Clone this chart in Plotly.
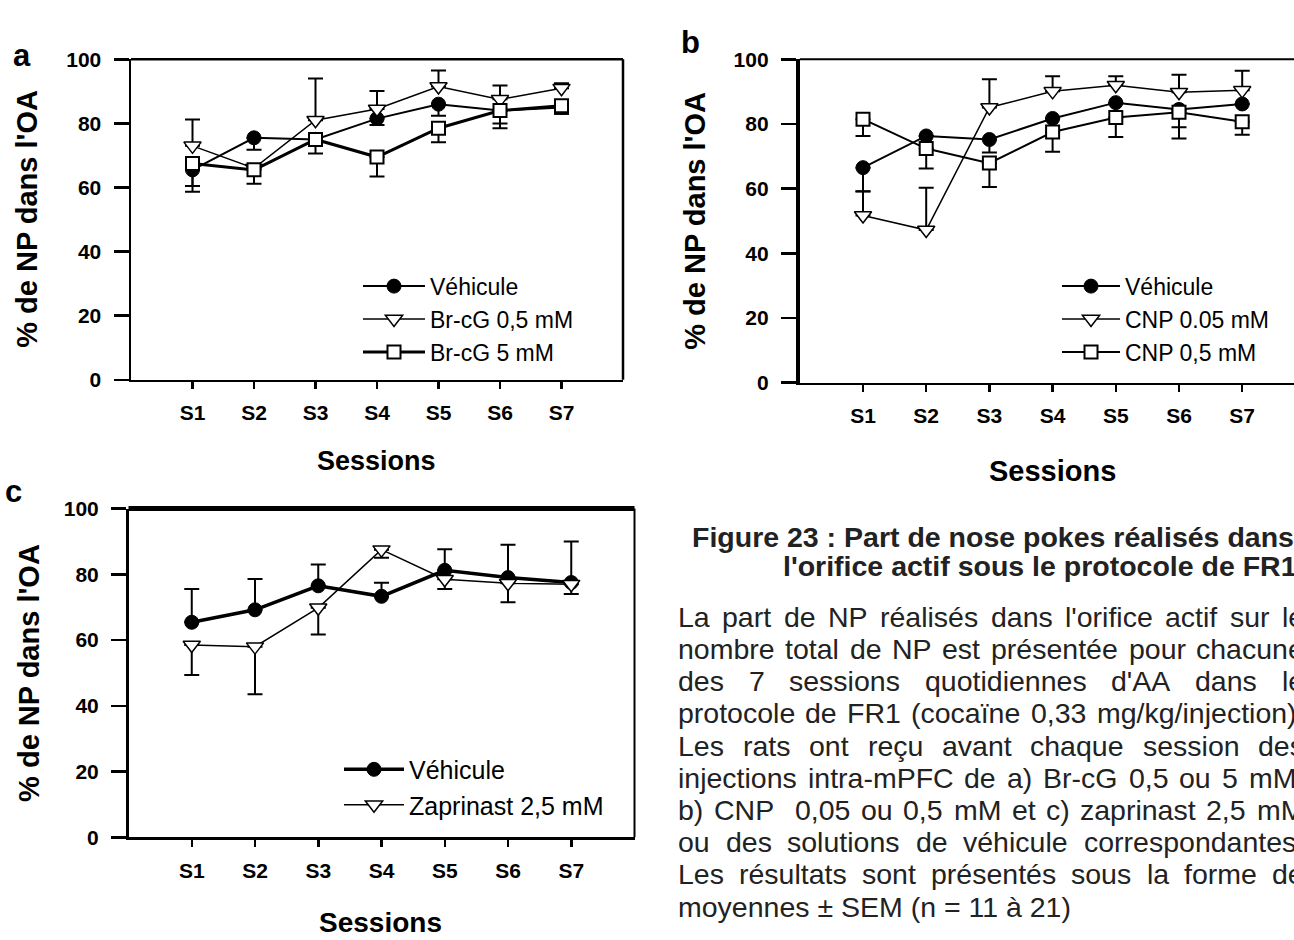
import plotly.graph_objects as go

W, H = 1294, 940
FONT = "Liberation Sans, Arial, sans-serif"

# ---------------- data ----------------
sessions = ["S1", "S2", "S3", "S4", "S5", "S6", "S7"]
y_tick_values = [0, 20, 40, 60, 80, 100]

# panel a
a_labels = ["Véhicule", "Br-cG 0,5 mM", "Br-cG 5 mM"]
a_vehicule = [65.5, 75.5, 75.0, 81.5, 86.0, 84.0, 85.0]
a_vehicule_err_up = [0, 0, 0, 0, 0, 0, 0]
a_vehicule_err_down = [6.8, 3.7, 0, 2.0, 3.6, 5.5, 2.0]
a_brcg05 = [73.0, 66.0, 81.0, 84.5, 91.5, 87.5, 91.0]
a_brcg05_err_up = [8.2, 0, 13.0, 5.6, 5.0, 4.3, 1.5]
a_brcg05_err_down = [0, 0, 0, 0, 0, 0, 0]
a_brcg5 = [67.5, 65.5, 75.0, 69.5, 78.5, 84.0, 85.5]
a_brcg5_err_up = [0, 0, 0, 0, 0, 0, 0]
a_brcg5_err_down = [7.0, 4.3, 4.4, 6.1, 4.4, 4.0, 2.5]

# panel b
b_labels = ["Véhicule", "CNP 0.05 mM", "CNP 0,5 mM"]
b_vehicule = [66.5, 76.3, 75.2, 81.7, 86.6, 84.5, 86.2]
b_vehicule_err_up = [0, 0, 0, 0, 0, 0, 0]
b_vehicule_err_down = [7.3, 0, 4.0, 0, 0, 9.0, 0]
b_cnp005 = [51.7, 47.2, 85.1, 90.1, 92.0, 89.8, 90.4]
b_cnp005_err_up = [7.4, 13.1, 8.7, 4.7, 2.8, 5.4, 6.1]
b_cnp005_err_down = [0, 0, 0, 0, 0, 0, 0]
b_cnp05 = [81.5, 72.4, 67.9, 77.5, 82.0, 83.6, 80.7]
b_cnp05_err_up = [0, 0, 0, 0, 0, 0, 0]
b_cnp05_err_down = [5.2, 6.2, 7.4, 6.1, 6.0, 4.6, 4.0]

# panel c
c_labels = ["Véhicule", "Zaprinast 2,5 mM"]
c_vehicule = [65.4, 69.2, 76.5, 73.3, 81.2, 79.0, 77.5]
c_vehicule_err_up = [10.1, 9.4, 6.5, 4.1, 6.4, 10.0, 12.5]
c_vehicule_err_down = [0, 0, 0, 0, 0, 0, 0]
c_zaprinast = [58.5, 58.0, 69.8, 87.5, 78.5, 77.3, 77.0]
c_zaprinast_err_up = [0, 0, 0, 0, 0, 0, 0]
c_zaprinast_err_down = [9.1, 14.5, 8.1, 2.5, 3.0, 5.8, 3.0]

y_title = "% de NP dans l'OA"
x_title = "Sessions"
panel_letters = ["a", "b", "c"]

caption_title_lines = [
    "Figure 23 : Part de nose pokes réalisés dans",
    "l'orifice actif sous le protocole de FR1",
]
caption_body_lines = [
    "La part de NP réalisés dans l'orifice actif sur le",
    "nombre total de NP est présentée pour chacune",
    "des 7 sessions quotidiennes d'AA dans le",
    "protocole de FR1 (cocaïne 0,33 mg/kg/injection).",
    "Les rats ont reçu avant chaque session des",
    "injections intra-mPFC de a) Br-cG 0,5 ou 5 mM,",
    "b) CNP  0,05 ou 0,5 mM et c) zaprinast 2,5 mM",
    "ou des solutions de véhicule correspondantes.",
    "Les résultats sont présentés sous la forme de",
    "moyennes ± SEM (n = 11 à 21)",
]


# ---------------- helpers ----------------
def px(x):
    return x / W


def py(y):
    return 1 - y / H


# Arial (Liberation Sans) advance widths, 1/1000 em, for justification
_UP = dict(zip("ABCDEFGHIJKLMNOPQRSTUVWXYZ",
               [667, 667, 722, 722, 667, 611, 778, 722, 278, 500, 667, 556, 833,
                722, 778, 667, 778, 722, 667, 611, 722, 667, 944, 667, 667, 611]))
_LO = dict(zip("abcdefghijklmnopqrstuvwxyz",
               [556, 556, 500, 556, 556, 278, 556, 556, 222, 222, 500, 222, 833,
                556, 556, 556, 556, 333, 500, 278, 556, 500, 722, 500, 500, 500]))
ARIAL_W = {" ": 278, "%": 889, "'": 191, "(": 333, ")": 333, "+": 584, ",": 278,
           "-": 333, ".": 278, "/": 278, ":": 278, ";": 278, "=": 584, "±": 584,
           "é": 556, "è": 556, "ê": 556, "à": 556, "ç": 500, "ï": 278}
ARIAL_W.update(_UP)
ARIAL_W.update(_LO)
ARIAL_W.update({d: 556 for d in "0123456789"})


def text_w(s, size):
    return sum(ARIAL_W.get(ch, 556) for ch in s) * size / 1000.0


fig = go.Figure()

# panel geometry (pixels)
A_X = (131.0, 623.0); A_Y = (48.5, 377.0)
B_X = (799.8, 1294.0); B_Y = (48.5, 380.0)
C_X = (128.5, 634.5); C_Y = (509.0, 846.0)
B_SPACING = 63.2


def add_series(y, up, down, name, symbol, fill, size, lw, mlw, ax, leg):
    fig.add_trace(go.Scatter(
        x=sessions, y=y, name=name, mode="lines+markers",
        line=dict(color="black", width=lw),
        marker=dict(symbol=symbol, size=size, color=fill,
                    line=dict(color="black", width=mlw)),
        error_y=dict(type="data", symmetric=False, array=up, arrayminus=down,
                     color="black", thickness=2, width=7.5),
        xaxis="x" + ax, yaxis="y" + ax, legend=leg, cliponaxis=False,
    ))


# panel a
add_series(a_vehicule, a_vehicule_err_up, a_vehicule_err_down, a_labels[0],
           "circle", "black", 14, 2, 1, "", "legend")
add_series(a_brcg05, a_brcg05_err_up, a_brcg05_err_down, a_labels[1],
           "triangle-down", "white", 15, 1.5, 1.5, "", "legend")
add_series(a_brcg5, a_brcg5_err_up, a_brcg5_err_down, a_labels[2],
           "square", "white", 13, 3, 2, "", "legend")
# panel b
add_series(b_vehicule, b_vehicule_err_up, b_vehicule_err_down, b_labels[0],
           "circle", "black", 14, 2, 1, "2", "legend2")
add_series(b_cnp005, b_cnp005_err_up, b_cnp005_err_down, b_labels[1],
           "triangle-down", "white", 15, 1.5, 1.5, "2", "legend2")
add_series(b_cnp05, b_cnp05_err_up, b_cnp05_err_down, b_labels[2],
           "square", "white", 13, 2, 2, "2", "legend2")
# panel c
add_series(c_vehicule, c_vehicule_err_up, c_vehicule_err_down, c_labels[0],
           "circle", "black", 14, 3.5, 1, "3", "legend3")
add_series(c_zaprinast, c_zaprinast_err_up, c_zaprinast_err_down, c_labels[1],
           "triangle-down", "white", 15, 1.5, 1.5, "3", "legend3")


def xaxis_cfg(xr, yanchor, rng, lw):
    return dict(domain=[px(xr[0]), px(xr[1])], range=rng, type="category",
                categoryorder="array", categoryarray=sessions,
                showline=True, linecolor="black", linewidth=lw,
                ticks="outside", ticklen=7, tickwidth=2.5, tickcolor="black",
                tickfont=dict(family=FONT, size=21, color="black", weight="bold"),
                ticklabelstandoff=6,
                showgrid=False, zeroline=False, anchor=yanchor, fixedrange=True)


def yaxis_cfg(yr, xanchor, lw):
    return dict(domain=[py(yr[1]), py(yr[0])], range=[0, 100],
                tickmode="array", tickvals=y_tick_values,
                showline=True, linecolor="black", linewidth=lw,
                ticks="outside", ticklen=15, tickwidth=2.5, tickcolor="black",
                tickfont=dict(family=FONT, size=21, color="black", weight="bold"),
                ticklabelstandoff=8,
                showgrid=False, zeroline=False, anchor=xanchor, fixedrange=True)


b_max = -1 + (B_X[1] - B_X[0]) / B_SPACING

fig.update_layout(
    width=W, height=H, margin=dict(l=0, r=0, t=0, b=0),
    paper_bgcolor="white", plot_bgcolor="white",
    font=dict(family=FONT, color="black"),
    xaxis=xaxis_cfg(A_X, "y", [-1, 7], 2.5),
    yaxis=yaxis_cfg(A_Y, "x", 2.5),
    xaxis2=xaxis_cfg(B_X, "y2", [-1, b_max], 2.5),
    yaxis2=yaxis_cfg(B_Y, "x2", 4),
    xaxis3=xaxis_cfg(C_X, "y3", [-1, 7], 2.5),
    yaxis3=yaxis_cfg(C_Y, "x3", 2.5),
    legend=dict(x=px(358), y=py(259), xanchor="left", yanchor="top",
                font=dict(family=FONT, size=23, color="black"),
                itemwidth=62, bgcolor="rgba(0,0,0,0)", tracegroupgap=0),
    legend2=dict(x=px(1057), y=py(259), xanchor="left", yanchor="top",
                 font=dict(family=FONT, size=23, color="black"),
                 itemwidth=58, bgcolor="rgba(0,0,0,0)", tracegroupgap=0),
    legend3=dict(x=px(339), y=py(753), xanchor="left", yanchor="top",
                 font=dict(family=FONT, size=25, color="black"),
                 itemwidth=60, bgcolor="rgba(0,0,0,0)", tracegroupgap=0),
    showlegend=True,
)

# frame lines (top / right) per panel
shapes = []
def frame(ax, top_w, right_w):
    xr, yr = "x" + ax + " domain", "y" + ax + " domain"
    if top_w:
        shapes.append(dict(type="line", xref=xr, yref=yr, x0=0, x1=1, y0=1, y1=1,
                           line=dict(color="black", width=top_w)))
    if right_w:
        shapes.append(dict(type="line", xref=xr, yref=yr, x0=1, x1=1, y0=0, y1=1,
                           line=dict(color="black", width=right_w)))

frame("", 2.5, 2.5)
frame("2", 2, 0)
frame("3", 5, 2)
fig.update_layout(shapes=shapes)

ann = []
def label(text, x, y, size, bold=True, angle=0, xanchor="center", color="black"):
    ann.append(dict(text=text, x=px(x), y=py(y), xref="paper", yref="paper",
                    xanchor=xanchor, yanchor="middle", showarrow=False,
                    textangle=angle,
                    font=dict(family=FONT, size=size, color=color,
                              weight="bold" if bold else "normal")))

# axis titles
label(y_title, 27.5, 212.5, 29, angle=-90)
label(y_title, 695, 214, 29, angle=-90)
label(y_title, 29.5, 678, 29, angle=-90)
label(x_title, 376, 460.5, 27)
label(x_title, 1052, 470, 29)
label(x_title, 380, 933, 28)
# panel letters
label(panel_letters[0], 21.5, 44.5, 31)
label(panel_letters[1], 691, 31, 31)
label(panel_letters[2], 13, 492, 31)

# caption title
label(caption_title_lines[0], 690, 538, 28.5, xanchor="left", color="#222")
label(caption_title_lines[1], 781, 567.5, 28.5, xanchor="left", color="#222")

# justified caption body
BODY_SIZE = 28.5
L, R = 676.0, 1302.0
for i, line in enumerate(caption_body_lines):
    yc = 620 + 33 * i
    if i == len(caption_body_lines) - 1:
        label(line, L, yc, BODY_SIZE, bold=False, xanchor="left", color="#222")
        continue
    words = line.split(" ")
    natural = sum(text_w(w, BODY_SIZE) for w in words)
    gap = (R - L - natural) / (len(words) - 1)
    xpos = L
    for w in words:
        if w:
            label(w, xpos, yc, BODY_SIZE, bold=False, xanchor="left", color="#222")
        xpos += text_w(w, BODY_SIZE) + gap

fig.update_layout(annotations=ann)

fig.write_html(
    "out.html",
    config={"displayModeBar": False, "staticPlot": True},
    post_script="document.body.style.margin='0px';document.body.style.padding='0px';"
                "document.body.style.overflow='hidden';",
)
